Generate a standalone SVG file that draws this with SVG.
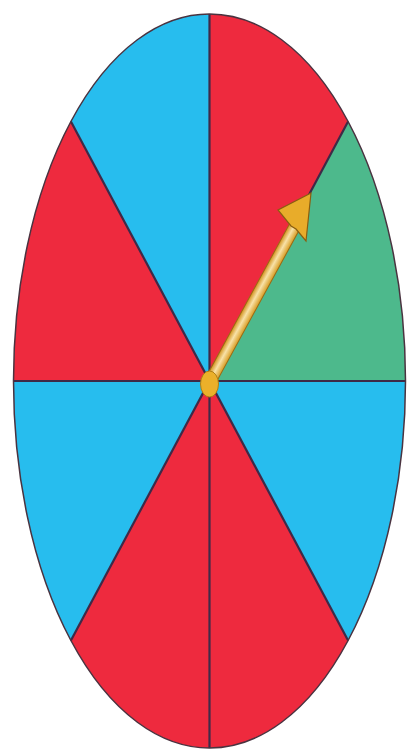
<svg xmlns="http://www.w3.org/2000/svg" width="407" height="752" viewBox="0 0 407 752">
<style>
.r{fill:#EE2A3E}.b{fill:#27BDEE}.g{fill:#4DB98C}
.ln{stroke:#3E2A48;stroke-width:2.2;fill:none}
</style>
<defs>
<linearGradient id="sh" x1="0" y1="0" x2="1" y2="0">
<stop offset="0" stop-color="#D2921C"/><stop offset="0.45" stop-color="#F8E2A8"/><stop offset="1" stop-color="#D89C22"/>
</linearGradient>
</defs>
<rect width="407" height="752" fill="#fff"/>
<g id="wheel">
<path class="r" d="M209.5 381 L209.5 14 A196 367 0 0 1 348.1 121.5 Z"/>
<path class="g" d="M209.5 381 L348.1 121.5 A196 367 0 0 1 405.5 381 Z"/>
<path class="b" d="M209.5 381 L405.5 381 A196 367 0 0 1 348.1 640.5 Z"/>
<path class="r" d="M209.5 381 L348.1 640.5 A196 367 0 0 1 209.5 748 Z"/>
<path class="r" d="M209.5 381 L209.5 748 A196 367 0 0 1 70.9 640.5 Z"/>
<path class="b" d="M209.5 381 L70.9 640.5 A196 367 0 0 1 13.5 381 Z"/>
<path class="r" d="M209.5 381 L13.5 381 A196 367 0 0 1 70.9 121.5 Z"/>
<path class="b" d="M209.5 381 L70.9 121.5 A196 367 0 0 1 209.5 14 Z"/>
</g>
<g id="lines">
<line class="ln" x1="209.5" y1="14" x2="209.5" y2="748"/>
<line class="ln" x1="13.5" y1="381" x2="405.5" y2="381"/>
<line class="ln" x1="70.9" y1="121.5" x2="348.1" y2="640.5"/>
<line class="ln" x1="348.1" y1="121.5" x2="70.9" y2="640.5"/>
<ellipse cx="209.5" cy="381" rx="196" ry="367" fill="none" stroke="#4A3340" stroke-width="1.5"/>
</g>
<g id="pointer">
<g transform="rotate(28.6 209 383)">
<rect x="203.5" y="205" width="11.5" height="178" fill="url(#sh)" stroke="#9A6A14" stroke-width="1"/>
</g>
<polygon points="311,193 306,241 296,229 291,226 278,210" fill="#E8AC2A" stroke="#8A5E10" stroke-width="1.2"/>
<ellipse cx="209.5" cy="384" rx="9" ry="13" fill="#EBB02A" stroke="#B07E14" stroke-width="1"/>
</g>
</svg>
